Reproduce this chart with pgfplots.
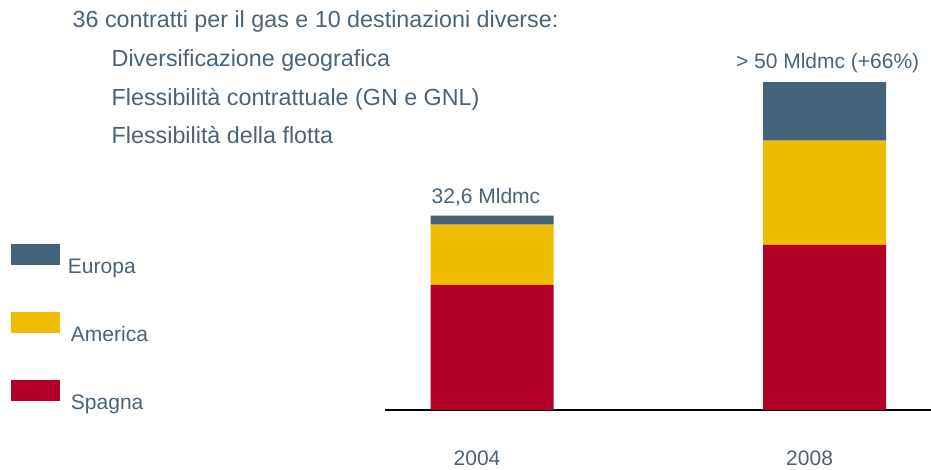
\documentclass[border=0pt]{standalone}
\usepackage{fontspec}
\setmainfont{Liberation Sans}
\usepackage{pgfplots}
\pgfplotsset{compat=1.18}
\definecolor{txt}{HTML}{4A6378}
\definecolor{europa}{HTML}{426379}
\definecolor{america}{HTML}{F0BC00}
\definecolor{spagna}{HTML}{B30029}
\newcommand{\fs}{\fontsize{21}{25}\selectfont}
\newcommand{\fh}{\fontsize{23.3}{28}\selectfont}
\begin{document}
\begin{tikzpicture}
\useasboundingbox (0,0) rectangle (931pt,470pt);
\begin{axis}[
  at={(385pt,60pt)}, anchor=south west,
  scale only axis, width=546pt, height=357.6pt,
  xmin=-0.322, xmax=1.320, ymin=0, ymax=60,
  ybar stacked, bar width=123pt,
  hide y axis,
  axis x line*=bottom,
  x axis line style={black, line width=1.6pt, -},
  xtick={0,1}, xticklabels={2004,2008},
  xtick style={draw=none},
  ytick=\empty,
  /pgf/number format/assume math mode=true,
  xticklabel style={font=\fs, text=txt, anchor=base, xshift=-15pt, yshift=-56pt},
  legend image code/.code={\fill[#1] (0pt,9pt) rectangle (49pt,29.7pt); \path (57pt,-6pt);},
  reverse legend,
  legend style={at={(-0.685,0.4642)}, anchor=north west, draw=none, fill=none,
    inner sep=0pt, outer sep=0pt, row sep=32.3pt, column sep=0pt,
    nodes={inner sep=0pt, outer sep=0pt, anchor=base west, text=txt, font=\fs}},
  legend cell align=left,
]
\addplot[fill=spagna, draw=none] coordinates {(0,21.0) (1,27.7)};
\addplot[fill=america, draw=none] coordinates {(0,10.1) (1,17.5)};
\addplot[fill=europa, draw=none] coordinates {(0,1.5) (1,9.8)};
\legend{\hspace*{3pt}Spagna,\hspace*{3pt}America,Europa}
\end{axis}
\begin{scope}[every node/.style={inner sep=0pt, outer sep=0pt, anchor=base west, text=txt, font=\fh}]
\node at (72.7pt,442pt) {36 contratti per il gas e 10 destinazioni diverse:};
\node at (111.7pt,403.5pt) {Diversificazione geografica};
\node at (111.7pt,364.5pt) {Flessibilità contrattuale (GN e GNL)};
\node at (111.7pt,326.5pt) {Flessibilità della flotta};
\end{scope}
\begin{scope}[every node/.style={inner sep=0pt, outer sep=0pt, anchor=base west, text=txt, font=\fs}]
\node at (431.7pt,266.7pt) {32,6 Mldmc};
\node at (736pt,401.7pt) {> 50 Mldmc (+66\%)};
\end{scope}
\end{tikzpicture}
\end{document}
